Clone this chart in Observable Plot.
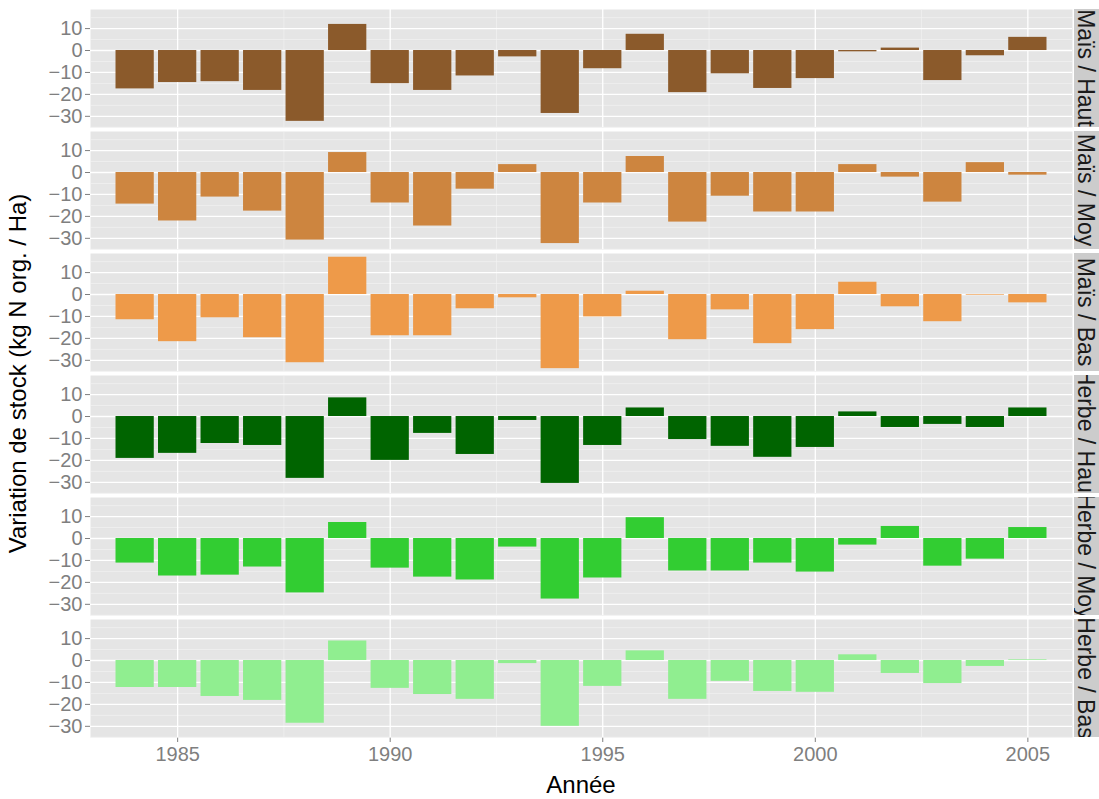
<!DOCTYPE html>
<html>
<head>
<meta charset="utf-8">
<script src="https://cdn.jsdelivr.net/npm/d3@7"></script>
<script src="https://cdn.jsdelivr.net/npm/@observablehq/plot@0.6"></script>
<style>
  body { margin: 0; background: #fff; }
  #chart svg { display: block; }
</style>
</head>
<body>
<div id="chart"></div>
<script>
// Years on the x axis
const years = [1984, 1985, 1986, 1987, 1988, 1989, 1990, 1991, 1992, 1993, 1994,
               1995, 1996, 1997, 1998, 1999, 2000, 2001, 2002, 2003, 2004, 2005];

// Facet rows (crop / level) and their bar colours
const groups = ["Maïs / Haut", "Maïs / Moy", "Maïs / Bas", "Herbe / Haut", "Herbe / Moy", "Herbe / Bas"];
const colors = ["#8B5A2B", "#CD853F", "#EE9A49", "#006400", "#32CD32", "#90EE90"];

// Stock variation (kg N org. / Ha), one value per year
const maisHaut  = [-17.5, -14.6, -14.2, -18.2, -32.3, 11.9, -15.1, -18.2, -11.6, -2.9, -28.7,
                   -8.3, 7.4, -19.2, -10.6, -17.3, -12.8, -0.6, 1.1, -13.7, -2.4, 6.0];
const maisMoy   = [-14.4, -22.1, -11.2, -17.6, -30.8, 9.1, -13.9, -24.4, -7.6, 3.6, -32.4,
                   -13.9, 7.3, -22.6, -10.8, -18.0, -18.0, 3.6, -2.1, -13.5, 4.5, -1.2];
const maisBas   = [-11.5, -21.5, -10.6, -19.7, -31.1, 17.0, -18.8, -18.8, -6.5, -1.5, -33.8,
                   -10.2, 1.5, -20.6, -7.0, -22.4, -16.0, 5.6, -5.6, -12.4, -0.3, -3.8];
const herbeHaut = [-19.1, -16.8, -12.3, -13.2, -28.2, 8.5, -20.0, -7.7, -17.3, -1.8, -30.5,
                   -13.2, 3.9, -10.5, -13.6, -18.6, -14.1, 2.1, -5.0, -3.6, -5.0, 3.9];
const herbeMoy  = [-11.2, -17.1, -16.7, -13.0, -24.8, 7.3, -13.5, -17.6, -18.9, -3.9, -27.6,
                   -18.0, 9.5, -14.8, -14.8, -11.2, -15.3, -3.0, 5.5, -12.6, -9.4, 5.0];
const herbeBas  = [-12.3, -12.3, -16.4, -18.2, -28.6, 8.9, -12.7, -15.5, -17.7, -1.4, -30.0,
                   -11.8, 4.4, -17.7, -9.5, -14.1, -14.5, 2.6, -5.9, -10.5, -2.7, 0.3];

// Axis ticks and grid lines
const xTicks = [1985, 1990, 1995, 2000, 2005];
const xMinor = [1987.5, 1992.5, 1997.5, 2002.5];
const yTicks = [-30, -20, -10, 0, 10];
const yMinor = [-35, -25, -15, -5, 5, 15];

const series = [maisHaut, maisMoy, maisBas, herbeHaut, herbeMoy, herbeBas];
const rows = groups.flatMap((g, i) => years.map((year, j) => ({group: g, year, value: series[i][j]})));

const W = 1099, H = 799, mL = 90, mR = 27, mT = 8, mB = 60;
const font = "'Liberation Sans', Arial, Helvetica, sans-serif";

const chart = Plot.plot({
  width: W,
  height: H,
  marginLeft: mL,
  marginRight: mR,
  marginTop: mT,
  marginBottom: mB,
  style: {fontFamily: font, fontSize: "20px", color: "#7f7f7f", background: "#fff"},
  facet: {data: rows, y: "group"},
  fy: {domain: groups, paddingInner: 0.03, paddingOuter: 0, axis: null, label: null},
  x: {domain: [1982.95, 2006.05], ticks: xTicks, tickFormat: "d", tickSize: 5, tickPadding: 4, label: null},
  y: {domain: [-35.1, 18.7], ticks: yTicks, tickSize: 5, tickPadding: 3, label: null},
  color: {domain: groups, range: colors},
  marks: [
    Plot.frame({fill: "#e5e5e5", stroke: null}),
    Plot.ruleX(xMinor, {stroke: "#f2f2f2", strokeWidth: 0.7}),
    Plot.ruleY(yMinor, {stroke: "#f2f2f2", strokeWidth: 0.7}),
    Plot.ruleX(xTicks, {stroke: "#ffffff", strokeWidth: 1.3}),
    Plot.ruleY(yTicks, {stroke: "#ffffff", strokeWidth: 1.3}),
    Plot.rectY(rows, {
      x1: d => d.year - 0.45,
      x2: d => d.year + 0.45,
      y1: 0,
      y2: "value",
      fill: "group"
    })
  ]
});

// Facet strips on the right, placed from the fy band scale; each label is clipped to its strip
const svg = d3.select(chart);
let fy = chart.scale && chart.scale("fy");
let bandStart, bandWidth;
if (fy && fy.apply) {
  bandStart = g => fy.apply(g);
  bandWidth = fy.bandwidth;
} else {
  const s = d3.scaleBand(groups, [mT, H - mB]).paddingInner(0.03).paddingOuter(0);
  bandStart = g => s(g);
  bandWidth = s.bandwidth();
}
const defs = svg.append("defs");
const strips = svg.append("g").attr("class", "strips");
groups.forEach((g, i) => {
  const y0 = bandStart(g);
  const x0 = W - mR + 2;
  const id = `strip-clip-${i}`;
  defs.append("clipPath").attr("id", id)
    .append("rect")
    .attr("x", x0).attr("y", y0)
    .attr("width", mR + 10).attr("height", bandWidth);
  const strip = strips.append("g").attr("clip-path", `url(#${id})`);
  strip.append("rect")
    .attr("x", x0)
    .attr("y", y0)
    .attr("width", mR + 10)
    .attr("height", bandWidth)
    .attr("fill", "#cccccc");
  strip.append("text")
    .attr("transform", `translate(${W - mR + 14},${y0 + bandWidth / 2}) rotate(90)`)
    .attr("text-anchor", "middle")
    .attr("dy", "0.35em")
    .attr("fill", "#1a1a1a")
    .style("font-family", font)
    .style("font-size", "23px")
    .text(g);
});

// Axis titles
svg.append("text")
  .attr("x", (mL + W - mR) / 2)
  .attr("y", H - 6)
  .attr("text-anchor", "middle")
  .attr("fill", "#000")
  .style("font-family", font)
  .style("font-size", "24px")
  .text("Année");
svg.append("text")
  .attr("transform", `translate(26,${(mT + H - mB) / 2}) rotate(-90)`)
  .attr("text-anchor", "middle")
  .attr("fill", "#000")
  .style("font-family", font)
  .style("font-size", "24px")
  .text("Variation de stock (kg N org. / Ha)");

document.getElementById("chart").appendChild(chart);
</script>
</body>
</html>
